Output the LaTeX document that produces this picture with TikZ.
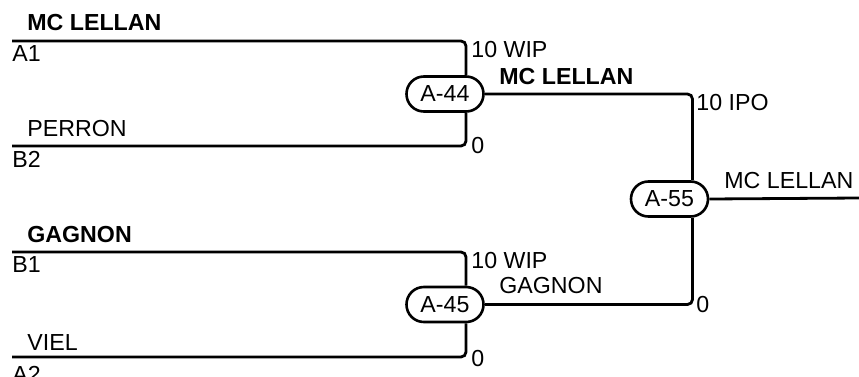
\documentclass[tikz,border=0pt]{standalone}
\usepackage{fontspec}
\setmainfont{Liberation Sans}
\usetikzlibrary{positioning}

\begin{document}
\begin{tikzpicture}[x=0.5pt, y=-0.5pt,
		    every node/.style={inner sep=0pt, font=\fontsize{11.6}{13}\selectfont},
		    linha/.style={line width=1.4pt, rounded corners=2.5pt}
		]
		\tikzset{
		    jogo/.style={draw, line width=1.3pt, rounded corners=8.7pt, minimum width=38.5pt, minimum height=17.5pt},
		    nome/.style={anchor=base west},
		    negrito/.style={anchor=base west, font=\fontsize{11.6}{13}\selectfont\bfseries}
		}
		\useasboundingbox (0,0) rectangle (859,376);
		% matches
		\node[jogo] (a44) at (445,94) {A-44};
		\node[jogo] (a45) at (445,304.5) {A-45};
		\node[jogo] (a55) at (669.5,199) {A-55};
		% free ends
		\coordinate (a1) at (12,41);
		\coordinate (b2) at (12,146);
		\coordinate (b1) at (12,252);
		\coordinate (a2) at (12,357);
		\coordinate (fim) at (859,198);
		% bracket lines
		\draw[linha] (a1) -| ([xshift=10.5pt]a44.north);
		\draw[linha] (b2) -| ([xshift=10.5pt]a44.south);
		\draw[linha] (b1) -| ([xshift=10.5pt]a45.north);
		\draw[linha] (a2) -| ([xshift=10.5pt]a45.south);
		\draw[linha] (a44.east) -| ([xshift=11.5pt]a55.north);
		\draw[linha] (a45.east) -| ([xshift=11.5pt]a55.south);
		\draw[linha] (a55.east) -- (fim);
		% labels
		\node[negrito] (n1) at (27,30) {MC LELLAN};
		\node[nome] (e1) at (12,61) {A1};
		\node[nome] (s1) at (471,57) {10 WIP};
		\node[nome] (n2) at (27,136) {PERRON};
		\node[nome] (e2) at (12,167) {B2};
		\node[nome] (s2) at (471,153) {0};
		\node[negrito] (v1) at (499,84) {MC LELLAN};
		\node[nome] (s5) at (696,110) {10 IPO};
		\node[nome] (vf) at (724,188) {MC LELLAN};
		\node[negrito] (n3) at (27,242) {GAGNON};
		\node[nome] (e3) at (12,272) {B1};
		\node[nome] (s3) at (471,268) {10 WIP};
		\node[nome] (v2) at (499,293) {GAGNON};
		\node[nome] (s6) at (696,312) {0};
		\node[nome] (n4) at (27,350) {VIEL};
		\node[nome] (e4) at (12,382) {A2};
		\node[nome] (s4) at (471,366) {0};
		\end{tikzpicture}
\end{document}
